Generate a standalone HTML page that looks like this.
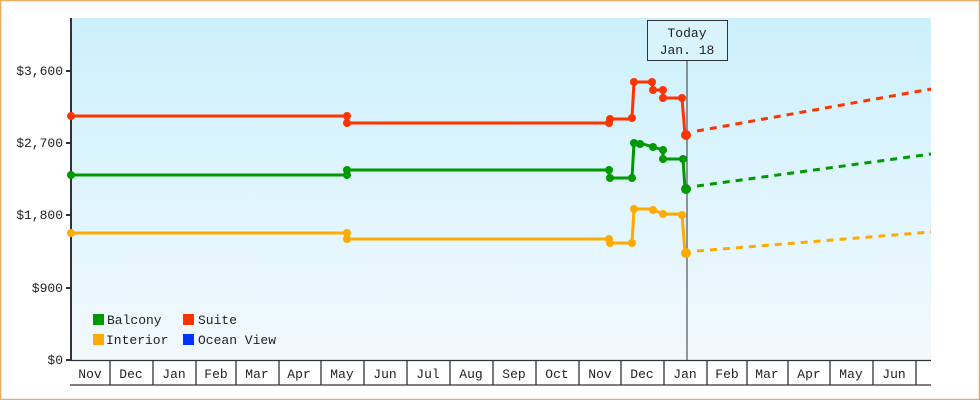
<!DOCTYPE html>
<html><head><meta charset="utf-8"><style>
html,body{margin:0;padding:0;background:#fff}
svg{display:block}
text{font-family:"Liberation Mono","DejaVu Sans Mono",monospace;font-size:13px;fill:#222}
</style></head><body>
<svg width="980" height="400" viewBox="0 0 980 400">
<defs><linearGradient id="bg" x1="0" y1="0" x2="0" y2="1"><stop offset="0" stop-color="#ccf0fc"/><stop offset="1" stop-color="#f2f9fe"/></linearGradient></defs>
<rect x="0.5" y="0.5" width="979" height="399" fill="#fff" stroke="#e8aa66" stroke-width="1.5"/>
<rect x="71" y="18" width="860" height="342" fill="url(#bg)"/>
<g stroke="#333" stroke-width="2">
<line x1="71" y1="18" x2="71" y2="361"/>
<line x1="66" y1="360" x2="71" y2="360"/><line x1="66" y1="288" x2="71" y2="288"/><line x1="66" y1="215" x2="71" y2="215"/><line x1="66" y1="143" x2="71" y2="143"/><line x1="66" y1="71" x2="71" y2="71"/>
</g>
<g text-anchor="end"><text x="63" y="364">$0</text><text x="63" y="292">$900</text><text x="63" y="219">$1,800</text><text x="63" y="147">$2,700</text><text x="63" y="75">$3,600</text></g>
<g stroke="#333" stroke-width="1.3" fill="none">
<line x1="70" y1="360.5" x2="931" y2="360.5"/><line x1="70" y1="385" x2="931" y2="385"/>
<path d="M110 360V385M153 360V385M196 360V385M236 360V385M279 360V385M321 360V385M364 360V385M407 360V385M450 360V385M493 360V385M536 360V385M579 360V385M621 360V385M664 360V385M707 360V385M747 360V385M788 360V385M830 360V385M873 360V385M916 360V385"/>
</g>
<g text-anchor="middle">
<text x="90" y="378">Nov</text><text x="131" y="378">Dec</text><text x="174" y="378">Jan</text><text x="216" y="378">Feb</text><text x="257" y="378">Mar</text><text x="299" y="378">Apr</text><text x="342" y="378">May</text><text x="385" y="378">Jun</text><text x="428" y="378">Jul</text><text x="471" y="378">Aug</text><text x="514" y="378">Sep</text><text x="557" y="378">Oct</text><text x="600" y="378">Nov</text><text x="642" y="378">Dec</text><text x="685" y="378">Jan</text><text x="727" y="378">Feb</text><text x="767" y="378">Mar</text><text x="809" y="378">Apr</text><text x="851" y="378">May</text><text x="894" y="378">Jun</text>
</g>
<line x1="687" y1="60" x2="687" y2="360" stroke="#333" stroke-width="1"/>
<rect x="647.5" y="20.5" width="80" height="40" fill="#d9f3fc" stroke="#333"/>
<text x="687" y="37" text-anchor="middle">Today</text><text x="687" y="54" text-anchor="middle">Jan. 18</text>
<g fill="none" stroke-width="3" stroke-linejoin="round">
<path stroke="#ff3300" d="M71 116H347V123H609V119H632V118L634 82H652L653 90H663V98H682L685 135"/>
<path stroke="#ff3300" stroke-dasharray="7 6" d="M697 131L931 89"/>
<path stroke="#009900" d="M71 175H347V170H609V178H632L634 143H640L653 147L663 150V159H683L685 189"/>
<path stroke="#009900" stroke-dasharray="7 6" d="M697 186L931 154"/>
<path stroke="#ffaa00" d="M71 233H347V239H609V243H632L634 209H652L663 214H682L685 253"/>
<path stroke="#ffaa00" stroke-dasharray="7 6" d="M697 251L931 232"/>
</g>
<g fill="#ff3300"><circle cx="71" cy="116" r="4"/><circle cx="347" cy="116" r="4"/><circle cx="347" cy="123" r="4"/><circle cx="609" cy="123" r="4"/><circle cx="610" cy="119" r="4"/><circle cx="632" cy="118" r="4"/><circle cx="634" cy="82" r="4"/><circle cx="652" cy="82" r="4"/><circle cx="653" cy="90" r="4"/><circle cx="663" cy="90" r="4"/><circle cx="663" cy="98" r="4"/><circle cx="682" cy="98" r="4"/><circle cx="686" cy="135" r="5"/></g>
<g fill="#009900"><circle cx="71" cy="175" r="4"/><circle cx="347" cy="175" r="4"/><circle cx="347" cy="170" r="4"/><circle cx="609" cy="170" r="4"/><circle cx="610" cy="178" r="4"/><circle cx="632" cy="178" r="4"/><circle cx="634" cy="143" r="4"/><circle cx="640" cy="144" r="4"/><circle cx="653" cy="147" r="4"/><circle cx="663" cy="150" r="4"/><circle cx="663" cy="159" r="4"/><circle cx="683" cy="159" r="4"/><circle cx="686" cy="189" r="5"/></g>
<g fill="#ffaa00"><circle cx="71" cy="233" r="4"/><circle cx="347" cy="233" r="4"/><circle cx="347" cy="239" r="4"/><circle cx="609" cy="239" r="4"/><circle cx="610" cy="243" r="4"/><circle cx="632" cy="243" r="4"/><circle cx="634" cy="209" r="4"/><circle cx="653" cy="210" r="4"/><circle cx="663" cy="214" r="4"/><circle cx="682" cy="215" r="4"/><circle cx="686" cy="253" r="5"/></g>
<rect x="93" y="314" width="11" height="11" fill="#009900"/><text x="107" y="324">Balcony</text>
<rect x="183" y="314" width="11" height="11" fill="#ff3300"/><text x="198" y="324">Suite</text>
<rect x="93" y="334" width="11" height="11" fill="#ffaa00"/><text x="106" y="344">Interior</text>
<rect x="183" y="334" width="11" height="11" fill="#0033ff"/><text x="198" y="344">Ocean View</text>
</svg>
</body></html>
